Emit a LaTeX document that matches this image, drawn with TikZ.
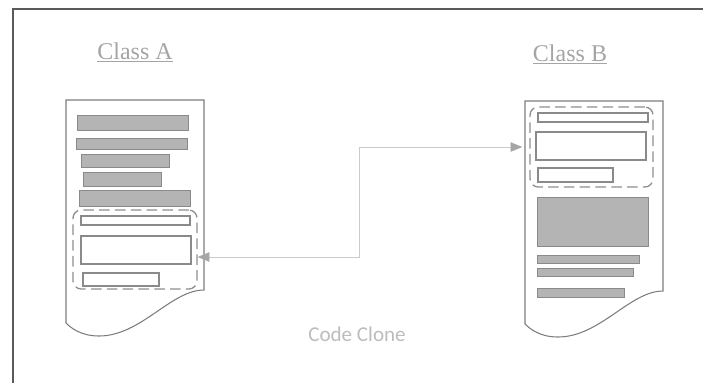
\documentclass[tikz,border=0pt]{standalone}
\usepackage{fontspec}
\setmainfont{Liberation Serif}
\newfontfamily\captionsans{Carlito}
\usetikzlibrary{arrows.meta,fit}

\definecolor{frameGray}{HTML}{5A5A5A}
\definecolor{pageGray}{HTML}{7C7C7C}
\definecolor{barFill}{HTML}{B4B4B4}
\definecolor{barLine}{HTML}{8A8A8A}
\definecolor{cloneGray}{HTML}{8E8E8E}
\definecolor{linkGray}{HTML}{CACACA}
\definecolor{tipGray}{HTML}{A6A6A6}
\definecolor{titleGray}{HTML}{A4A4A4}
\definecolor{captionGray}{HTML}{BCBCBC}

\tikzset{
	page/.style={draw=pageGray, line width=0.9pt},
	bar/.style={draw=barLine, fill=barFill, line width=0.8pt},
	slot/.style={draw=barLine, fill=white, line width=0.9pt},
	clone/.style={draw=cloneGray, line width=1.1pt, dash pattern=on 9pt off 4.5pt, rounded corners=7pt, inner sep=0pt},
	link/.style={draw=linkGray, line width=0.6pt, {Triangle[length=10pt,width=8pt,color=tipGray]}-{Triangle[length=10pt,width=8pt,color=tipGray]}},
	title/.style={text=titleGray, font=\fontsize{20.5}{24}\selectfont},
}

% sheet of paper with a wavy lower edge, #1 = top left corner
\newcommand{\classpage}[1]{%
	\begin{scope}[shift={(#1)}]
		\draw[page] (0,0) -- (138,0) -- (138,190)
			.. controls (105,190) and (75,236) .. (33,236)
			.. controls (15,236) and (5,228) .. (0,223) -- cycle;
	\end{scope}}

\begin{document}
\begin{tikzpicture}[x=0.03cm, y=-0.03cm]
	\useasboundingbox (0,0) rectangle (703,383);
	\draw[frameGray, line width=1.2pt] (13,383) -- (13,9) -- (703,9);

	\node[title] (titleA) at (135,52) {\underline{Class A}};
	\node[title] (titleB) at (570,54) {\underline{Class B}};

	% Class A
	\classpage{66,100}
	\draw[bar] (77,115) rectangle (188,130);
	\draw[bar] (76,138) rectangle (187,149);
	\draw[bar] (81,154) rectangle (169,167);
	\draw[bar] (83,172) rectangle (161,186);
	\draw[bar] (79,190) rectangle (190,206);
	\node[clone, fit={(73,210) (197,289)}] (cloneA) {};
	\draw[slot] (81,216) rectangle (190,225);
	\draw[slot] (81,236) rectangle (191,264);
	\draw[slot] (83,273) rectangle (159,286);

	% Class B
	\classpage{525,101}
	\node[clone, fit={(530,107) (653,187)}] (cloneB) {};
	\draw[slot] (538,113) rectangle (648,122);
	\draw[slot] (536,132) rectangle (646,160);
	\draw[slot] (538,168) rectangle (613,182);
	\draw[bar] (537,197) rectangle (648,246);
	\draw[bar] (537,255) rectangle (639,263);
	\draw[bar] (537,268) rectangle (633,276);
	\draw[bar] (537,288) rectangle (624,297);

	% clone link
	\coordinate (bend) at (359,257);
	\draw[link] (bend -| cloneA.east) -- (bend) |- ([xshift=-6pt]cloneB.west);

	\node[text=captionGray, font=\captionsans\fontsize{18}{22}\selectfont] (caption) at (357,334) {Code Clone};
\end{tikzpicture}
\end{document}
